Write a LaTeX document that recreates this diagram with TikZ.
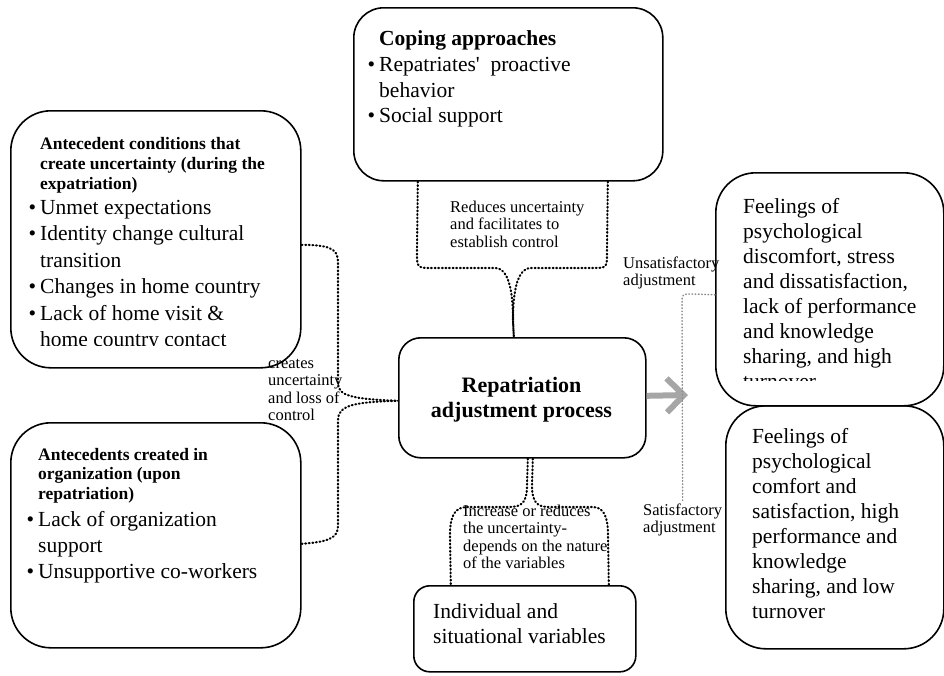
\documentclass[tikz,border=0pt]{standalone}
\usepackage{fontspec}
\setmainfont{Liberation Serif}
\newfontfamily\apf{Liberation Serif}
\usetikzlibrary{arrows.meta}
\tikzset{
  box/.style={draw, line width=1.6pt, anchor=north west, inner sep=0pt},
  txt/.style={anchor=north west, inner sep=0pt, align=left},
  dotline/.style={line width=2.1pt, line cap=round, dash pattern=on 0.9pt off 2.7pt},
  graydot/.style={line width=1.5pt, line cap=round, dash pattern=on 0.6pt off 2.6pt, draw=black!45},
  grayarrow/.style={line width=6pt, draw=black!35, -{Straight Barb[length=17pt,width=34pt]}},
}
\newcommand{\bul}{\llap{\textbullet\hspace{4pt}}}
\newcommand{\mainf}[1]{\fontsize{21.5pt}{#1}\selectfont}
\newcommand{\labf}{\fontsize{16.5pt}{17.4pt}\selectfont}
\begin{document}
\begin{tikzpicture}[x=1pt,y=-1pt]
\useasboundingbox (0,0) rectangle (944,675);
% boxes
\node[box, rounded corners=30pt, minimum width=309pt, minimum height=173pt] (coping) at (353,7) {};
\node[box, rounded corners=40pt, minimum width=290pt, minimum height=257pt] (ante1) at (10,110) {};
\node[box, rounded corners=40pt, minimum width=290pt, minimum height=225pt] (ante2) at (10,422) {};
\node[box, rounded corners=22pt, minimum width=247pt, minimum height=120pt] (center) at (398,337) {};
\node[box, rounded corners=16pt, minimum width=222pt, minimum height=86pt] (varbox) at (413,585) {};
\node[box, rounded corners=40pt, minimum width=228pt, minimum height=233pt] (rupper) at (715,172) {};
\node[box, rounded corners=40pt, minimum width=218pt, minimum height=243pt] (rlower) at (725,405) {};
% texts
\node[txt, font=\bfseries\mainf{25.5pt}] (copinghead) at (379,27.15) {\strut Coping approaches};
\node[txt, font=\mainf{25.5pt}] (copinglist) at (379,53.65) {\strut\bul Repatriates{\apf'}~ proactive\\behavior\\\bul Social support};
\node[txt, font=\bfseries\fontsize{17.5pt}{20pt}\selectfont] (ante1head) at (40,135) {\strut Antecedent conditions that\\create uncertainty (during the\\expatriation)};
\begin{scope}
\clip (10,110) rectangle (300,345);
\node[txt, font=\mainf{26.5pt}] (ante1list) at (40,195.45) {\strut\bul Unmet expectations\\\bul Identity change cultural\\transition\\\bul Changes in home country\\\bul Lack of home visit \&\\home country contact};
\end{scope}
\node[txt, font=\bfseries\fontsize{17.5pt}{19.5pt}\selectfont] (ante2head) at (38,446.35) {\strut Antecedents created in\\organization (upon\\repatriation)};
\node[txt, font=\mainf{26pt}] (ante2list) at (38,507.8) {\strut\bul Lack of organization\\support\\\bul Unsupportive co-workers};
\node[anchor=north, inner sep=0pt, align=center, font=\bfseries\fontsize{22pt}{25pt}\selectfont] (centertxt) at (521.5,374.5) {\strut Repatriation\\adjustment process};
\node[txt, font=\mainf{25pt}] (vartxt) at (433,600.5) {\strut Individual and\\situational variables};
\begin{scope}
\clip (715,172) rectangle (944,380);
\node[txt, font=\mainf{25pt}] (ruppertxt) at (743,195.5) {\strut Feelings of\\psychological\\discomfort, stress\\and dissatisfaction,\\lack of performance\\and knowledge\\sharing, and high\\turnover};
\end{scope}
\node[txt, font=\mainf{25pt}] (rlowertxt) at (752,425.5) {\strut Feelings of\\psychological\\comfort and\\satisfaction, high\\performance and\\knowledge\\sharing, and low\\turnover};
% labels
\node[txt, font=\labf] (reduces) at (450,199.9) {\strut Reduces uncertainty\\and facilitates to\\establish control};
\node[txt, font=\labf] (unsat) at (623,255.9) {\strut Unsatisfactory\\adjustment};
\node[txt, font=\labf] (creates) at (268,355.9) {\strut creates\\uncertainty\\and loss of\\control};
\node[txt, font=\labf] (increase) at (463,503.9) {\strut Increase or reduces\\the uncertainty-\\depends on the nature\\of the variables};
\node[txt, font=\labf] (sat) at (643,502.9) {\strut Satisfactory\\adjustment};
% connectors
\draw[dotline] ([xshift=-90.5pt]coping.south) -- (417,252) .. controls (417,268) .. (433,268) -- (495,268) .. controls (511,268) and (513,300) .. (513,320) -- ([xshift=-8.5pt]center.north);
\draw[dotline] ([xshift=99.5pt]coping.south) -- (607,252) .. controls (607,268) .. (592,268) -- (531,268) .. controls (515,268) and (513,300) .. (513,320) -- ([xshift=-8.5pt]center.north);
\draw[dotline] ([yshift=-5.5pt]ante1.east) .. controls (328,245) and (338,248) .. (338,262) -- (338,383) .. controls (338,396) and (352,399) .. ([yshift=-3pt]center.west);
\draw[dotline] ([yshift=-8.5pt]ante2.east) .. controls (328,542) and (338,538) .. (338,526) -- (338,420) .. controls (338,405) and (355,402) .. ([yshift=-3pt]center.west);
\draw[dotline] ([xshift=5.5pt]center.south) -- (527,485) .. controls (527,504) and (521,507) .. (508,507) -- (468,507) .. controls (455,507) and (450,515) .. (450,535) -- ([xshift=-74pt]varbox.north);
\draw[dotline] ([xshift=10.5pt]center.south) -- (532,485) .. controls (532,504) and (538,507) .. (550,507) -- (592,507) .. controls (603,507) and (608,515) .. (608,535) -- ([xshift=84pt]varbox.north);
\coordinate (arrowtip) at (688,395);
\draw[grayarrow] ([yshift=2pt]center.east) -- (arrowtip);
\draw[graydot] ([yshift=-5.5pt]rupper.west) -- (692,294) .. controls (682,294) .. (682,304) -- (sat.north);
\end{tikzpicture}
\end{document}
